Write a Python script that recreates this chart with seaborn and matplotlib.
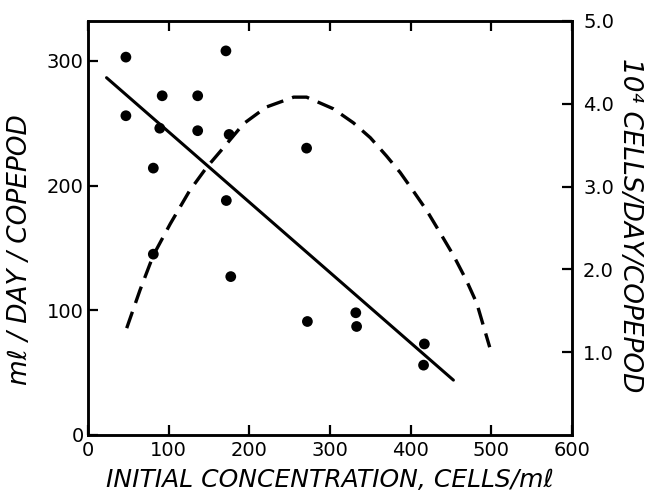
import matplotlib
matplotlib.use("Agg")
import matplotlib.pyplot as plt
import pandas as pd
import seaborn as sns

# observed filtering rates (ml/day/copepod)
conc_obs = [47, 47, 81, 81, 89, 92, 136, 136, 171, 171.5, 175, 177, 271, 272, 332, 333, 416, 417]
rate_obs = [303, 256, 214, 145, 246, 272, 272, 244, 308, 188, 241, 127, 230, 91, 98, 87, 56, 73]

# fitted line for filtering rate
fit_x = [23, 453]
fit_y = [286.5, 44]

# ingestion curve (10^4 cells/day/copepod), right axis
ing_x = [48, 64.5, 81, 102, 126, 147, 168, 193, 221, 255, 271, 304, 329, 350,
         370, 387, 403, 420, 436, 453, 469, 482, 498]
ing_y = [1.29, 1.75, 2.17, 2.55, 2.95, 3.23, 3.47, 3.76, 3.96, 4.08, 4.08, 3.94,
         3.77, 3.59, 3.37, 3.17, 2.95, 2.71, 2.45, 2.17, 1.87, 1.59, 1.06]

x_ticks = [0, 100, 200, 300, 400, 500, 600]
left_ticks = [0, 100, 200, 300]
right_ticks = [1.0, 2.0, 3.0, 4.0, 5.0]


def main():
    sns.set_style("ticks")
    plt.rcParams["font.family"] = ["DejaVu Sans"]
    plt.rcParams["text.color"] = "black"
    plt.rcParams["axes.labelcolor"] = "black"

    fig = plt.figure(figsize=(6.45, 4.99), dpi=100)
    ax = fig.add_axes([0.1364, 0.1283, 0.7504, 0.8297])
    ax2 = ax.twinx()

    obs = pd.DataFrame({"conc": conc_obs, "rate": rate_obs})
    fit = pd.DataFrame({"conc": fit_x, "rate": fit_y})
    ing = pd.DataFrame({"conc": ing_x, "cells": ing_y})

    sns.scatterplot(data=obs, x="conc", y="rate", color="black", s=60,
                    edgecolor="none", ax=ax, zorder=3)
    sns.lineplot(data=fit, x="conc", y="rate", color="black", lw=2.2, ax=ax)
    sns.lineplot(data=ing, x="conc", y="cells", color="black", lw=2.4,
                 dashes=False, ax=ax2, sort=False)
    ax2.lines[0].set_dashes((5.2, 2.8))

    ax.set_xlim(0, 600)
    ax.set_ylim(0, 332)
    ax2.set_ylim(0, 5.0)

    ax.set_xticks(x_ticks)
    ax.set_yticks(left_ticks)
    ax2.set_yticks(right_ticks)
    ax.set_xticklabels([str(v) for v in x_ticks])
    ax.set_yticklabels([str(v) for v in left_ticks])
    ax2.set_yticklabels([f"{v:.1f}" for v in right_ticks])

    for a in (ax, ax2):
        for s in a.spines.values():
            s.set_linewidth(1.8)
            s.set_color("black")
        a.tick_params(direction="in", length=7, width=1.6, labelsize=14,
                      colors="black")
    ax.tick_params(axis="x", top=True, pad=4)
    ax.tick_params(axis="y", pad=3)
    ax2.tick_params(axis="y", pad=8)

    ax.set_xlabel("INITIAL CONCENTRATION, CELLS/mℓ", fontsize=18,
                  fontstyle="italic", labelpad=6)
    ax.set_ylabel("mℓ / DAY / COPEPOD", fontsize=19, fontstyle="italic",
                  va="center", ha="center")
    ax.yaxis.set_label_coords(-0.14, 0.447)
    ax2.set_ylabel("10⁴ CELLS/DAY/COPEPOD", fontsize=19, fontstyle="italic",
                   rotation=-90, va="center", ha="center")
    ax2.yaxis.set_label_coords(1.12, 0.507)

    fig.savefig("out.png", dpi=100)
    plt.close(fig)


if __name__ == "__main__":
    main()
